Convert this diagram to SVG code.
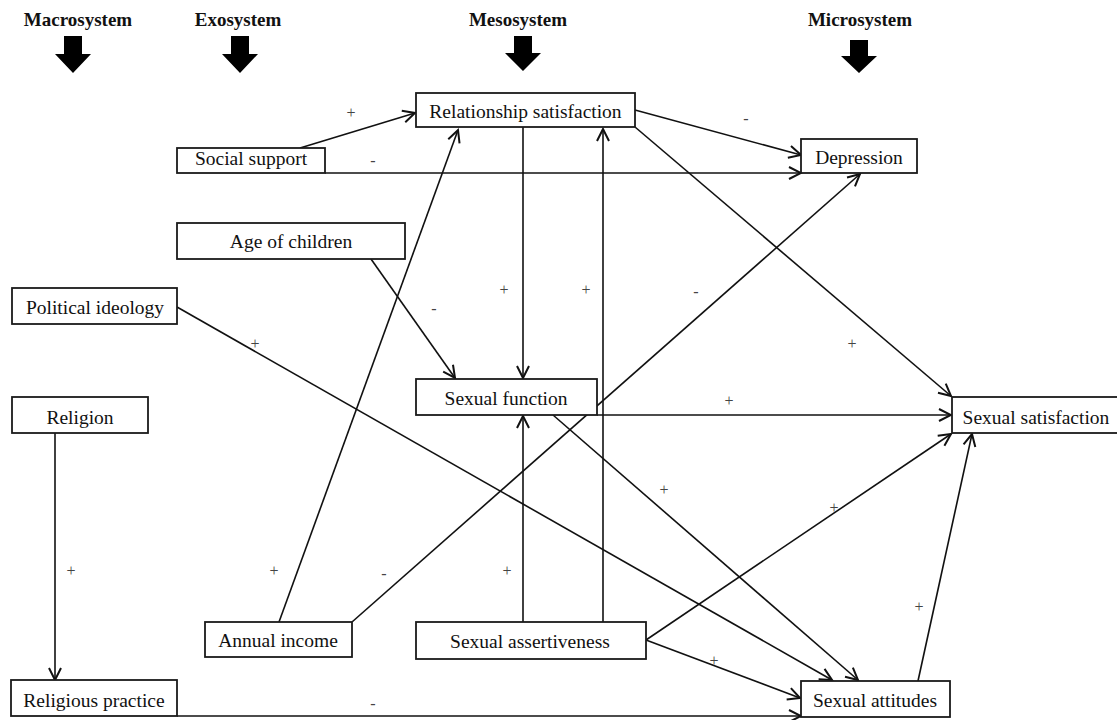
<svg xmlns="http://www.w3.org/2000/svg" width="1117" height="720" viewBox="0 0 1117 720">
  <style>
    .box { fill: #fff; stroke: #1a1a1a; stroke-width: 1.8; }
    .lbl { font-family: "Liberation Serif", "Times New Roman", serif; font-size: 19.5px; fill: #111; text-anchor: middle; }
    .hdr { font-family: "Liberation Serif", "Times New Roman", serif; font-size: 19px; font-weight: bold; fill: #111; text-anchor: middle; }
    .sign { font-family: "Liberation Serif", "Times New Roman", serif; font-size: 16px; fill: #444; text-anchor: middle; dominant-baseline: central; }
    .edge { fill: none; stroke: #111; stroke-width: 1.6; }
    .arr { marker-end: url(#head); }
    .big { fill: #000; }
  </style>
  <defs>
    <marker id="head" markerUnits="userSpaceOnUse" markerWidth="16" markerHeight="16" viewBox="-14 -8 16 16" refX="0" refY="0" orient="auto">
      <path d="M-12,-6 L0,0 L-12,6" fill="none" stroke="#111" stroke-width="2"/>
    </marker>
  </defs>

  <!-- system level headings with block arrows -->
  <g id="headers">
    <text class="hdr" x="78" y="26">Macrosystem</text>
    <text class="hdr" x="238" y="26">Exosystem</text>
    <text class="hdr" x="518" y="26">Mesosystem</text>
    <text class="hdr" x="860" y="26">Microsystem</text>
    <polygon class="big" points="64,36 82,36 82,54 91,54 73,73 55,54 64,54"/>
    <polygon class="big" points="231,36 249,36 249,54 258,54 240,73 222,54 231,54"/>
    <polygon class="big" points="514,36 532,36 532,53 541,53 523,71 505,53 514,53"/>
    <polygon class="big" points="850,40 868,40 868,56 877,56 859,73 841,56 850,56"/>
  </g>

  <!-- connectors -->
  <g id="connectors">
    <line class="edge arr" x1="300" y1="148" x2="415" y2="113"/>
    <line class="edge arr" x1="325" y1="173" x2="801" y2="173"/>
    <line class="edge arr" x1="635" y1="110" x2="801" y2="155"/>
    <line class="edge arr" x1="523" y1="127" x2="523" y2="378"/>
    <line class="edge arr" x1="603" y1="622" x2="603" y2="129"/>
    <line class="edge arr" x1="635" y1="127" x2="951" y2="396"/>
    <line class="edge arr" x1="352" y1="622" x2="860" y2="174"/>
    <line class="edge arr" x1="279" y1="622" x2="458" y2="130"/>
    <line class="edge arr" x1="371" y1="259" x2="455" y2="378"/>
    <line class="edge arr" x1="177" y1="307" x2="832" y2="680"/>
    <line class="edge arr" x1="55" y1="433" x2="55" y2="680"/>
    <line class="edge arr" x1="177" y1="716" x2="801" y2="716"/>
    <line class="edge arr" x1="597" y1="415" x2="951" y2="415"/>
    <line class="edge arr" x1="553" y1="415" x2="858" y2="680"/>
    <line class="edge arr" x1="523" y1="622" x2="523" y2="416"/>
    <line class="edge arr" x1="646" y1="640" x2="951" y2="434"/>
    <line class="edge arr" x1="646" y1="640" x2="800" y2="698"/>
    <line class="edge arr" x1="918" y1="681" x2="972" y2="434"/>
  </g>

  <!-- path signs -->
  <g id="signs">
    <text class="sign" x="351" y="112">+</text>
    <text class="sign" x="373" y="160">-</text>
    <text class="sign" x="746" y="118">-</text>
    <text class="sign" x="504" y="289">+</text>
    <text class="sign" x="586" y="289">+</text>
    <text class="sign" x="696" y="291">-</text>
    <text class="sign" x="434" y="308">-</text>
    <text class="sign" x="255" y="343">+</text>
    <text class="sign" x="852" y="343">+</text>
    <text class="sign" x="729" y="400">+</text>
    <text class="sign" x="664" y="489">+</text>
    <text class="sign" x="834" y="507">+</text>
    <text class="sign" x="71" y="570">+</text>
    <text class="sign" x="274" y="570">+</text>
    <text class="sign" x="384" y="573">-</text>
    <text class="sign" x="507" y="570">+</text>
    <text class="sign" x="919" y="606">+</text>
    <text class="sign" x="714" y="660">+</text>
    <text class="sign" x="373" y="703">-</text>
  </g>

  <!-- nodes -->
  <g id="relationship-satisfaction">
    <rect class="box" x="416" y="93" width="219" height="34"/>
    <text class="lbl" x="525.5" y="118">Relationship satisfaction</text>
  </g>
  <g id="social-support">
    <rect class="box" x="177" y="148" width="148" height="25"/>
    <text class="lbl" x="251" y="165">Social support</text>
  </g>
  <g id="depression">
    <rect class="box" x="801" y="139" width="116" height="34"/>
    <text class="lbl" x="859" y="164">Depression</text>
  </g>
  <g id="age-of-children">
    <rect class="box" x="177" y="223" width="228" height="36"/>
    <text class="lbl" x="291" y="248">Age of children</text>
  </g>
  <g id="political-ideology">
    <rect class="box" x="12" y="288" width="165" height="36"/>
    <text class="lbl" x="95" y="314">Political ideology</text>
  </g>
  <g id="sexual-function">
    <rect class="box" x="416" y="379" width="181" height="36"/>
    <text class="lbl" x="506" y="405">Sexual function</text>
  </g>
  <g id="religion">
    <rect class="box" x="12" y="397" width="136" height="36"/>
    <text class="lbl" x="80" y="424">Religion</text>
  </g>
  <g id="sexual-satisfaction">
    <rect class="box" x="952" y="397" width="170" height="36"/>
    <text class="lbl" x="1036" y="424">Sexual satisfaction</text>
  </g>
  <g id="annual-income">
    <rect class="box" x="205" y="622" width="147" height="35"/>
    <text class="lbl" x="278" y="647">Annual income</text>
  </g>
  <g id="sexual-assertiveness">
    <rect class="box" x="416" y="622" width="230" height="37"/>
    <text class="lbl" x="530" y="648">Sexual assertiveness</text>
  </g>
  <g id="religious-practice">
    <rect class="box" x="11" y="680" width="166" height="36"/>
    <text class="lbl" x="94" y="707">Religious practice</text>
  </g>
  <g id="sexual-attitudes">
    <rect class="box" x="801" y="681" width="149" height="36"/>
    <text class="lbl" x="875" y="707">Sexual attitudes</text>
  </g>
</svg>
